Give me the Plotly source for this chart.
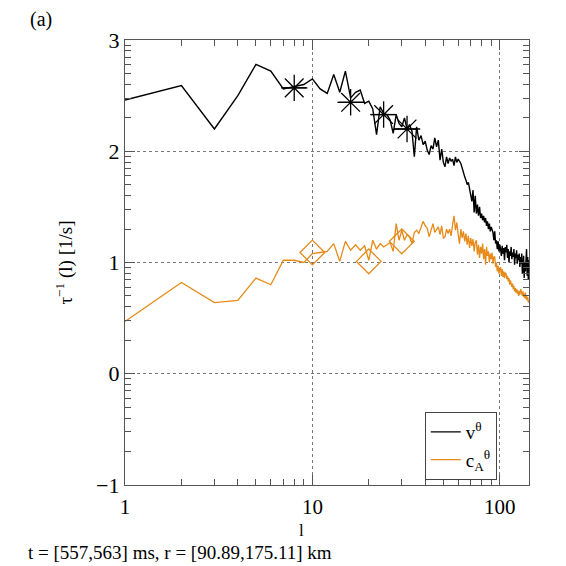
import plotly.graph_objects as go

# scale index l (1..143)
l_vals = list(range(1, 144))

v_theta = [
    2.46, 2.59, 2.20, 2.50, 2.78, 2.72, 2.56, 2.58, 2.60, 2.65,
    2.56, 2.52, 2.69, 2.53, 2.72, 2.48, 2.53, 2.55, 2.43, 2.45,
    2.38, 2.15, 2.40, 2.34, 2.33, 2.28, 2.16, 2.33, 2.25, 2.22,
    2.30, 2.20, 2.24, 2.18, 1.95, 2.22, 2.10, 2.14, 2.06, 2.09,
    2.01, 1.97, 2.05, 2.02, 2.12, 2.04, 2.10, 1.92, 2.02, 1.90,
    1.86, 1.95, 1.89, 1.94, 1.91, 1.93, 1.87, 1.95, 1.90, 1.93,
    1.91, 1.89, 1.85, 1.80, 1.77, 1.74, 1.70, 1.72, 1.65, 1.62,
    1.55, 1.65, 1.45, 1.60, 1.44, 1.52, 1.42, 1.50, 1.40, 1.44,
    1.38, 1.42, 1.36, 1.40, 1.33, 1.37, 1.30, 1.35, 1.28, 1.32,
    1.29, 1.27, 1.20, 1.28, 1.17, 1.20, 1.12, 1.19, 1.10, 1.16,
    1.12, 1.06, 1.15, 1.08, 1.13, 1.02, 1.14, 1.09, 1.16, 1.04,
    1.12, 1.00, 1.10, 1.06, 1.14, 1.03, 1.09, 1.05, 1.12, 0.98,
    1.08, 1.04, 1.11, 0.99, 1.07, 1.02, 1.08, 0.96, 1.05, 0.99,
    1.08, 0.90, 0.94, 1.06, 0.86, 1.00, 0.92, 1.10, 1.12, 0.88,
    1.05, 0.85, 1.02,
]

cA_theta = [
    0.47, 0.82, 0.64, 0.66, 0.86, 0.80, 1.02, 1.02, 1.00, 1.08,
    1.09, 1.10, 1.17, 1.01, 1.19, 1.11, 1.16, 1.11, 1.15, 1.02,
    1.20, 1.12, 1.17, 1.14, 1.16, 1.18, 1.10, 1.35, 1.20, 1.29,
    1.20, 1.25, 1.23, 1.17, 1.27, 1.29, 1.26, 1.32, 1.37, 1.33,
    1.31, 1.23, 1.30, 1.35, 1.27, 1.29, 1.32, 1.25, 1.33, 1.22,
    1.23, 1.30, 1.26, 1.30, 1.24, 1.34, 1.42, 1.29, 1.36, 1.25,
    1.17, 1.30, 1.22, 1.28, 1.19, 1.26, 1.16, 1.24, 1.13, 1.22,
    1.15, 1.21, 1.10, 1.18, 1.20, 1.07, 1.16, 1.04, 1.14, 1.08,
    1.17, 1.03, 1.12, 0.98, 1.14, 1.06, 1.10, 1.00, 1.08, 1.03,
    1.09, 0.99, 1.05, 1.05, 0.96, 1.00, 0.92, 0.97, 0.90, 0.93,
    0.96, 0.88, 0.94, 0.87, 0.92, 0.86, 0.91, 0.90, 0.85, 0.88,
    0.83, 0.86, 0.80, 0.84, 0.82, 0.78, 0.81, 0.76, 0.79, 0.74,
    0.77, 0.73, 0.76, 0.72, 0.75, 0.70, 0.74, 0.71, 0.76, 0.75,
    0.72, 0.70, 0.74, 0.69, 0.72, 0.68, 0.73, 0.67, 0.70, 0.66,
    0.69, 0.64, 0.66,
]

# binned markers
star_l = [8, 16, 24, 32]
star_v = [2.57, 2.44, 2.33, 2.20]
star_err_minus = [1.0, 2.2, 3.6, 4.6]
star_err_plus = [1.3, 3.0, 3.8, 4.6]

diam_l = [10, 20, 30]
diam_v = [1.09, 1.01, 1.19]

x_ticks = [1, 10, 100]
x_tick_text = ["1", "10", "100"]
x_minor = [2, 3, 4, 5, 6, 7, 8, 9, 20, 30, 40, 50, 60, 70, 80, 90]
y_ticks = [-1, 0, 1, 2, 3]
y_tick_text = ["\u22121", "0", "1", "2", "3"]
y_minor = [-0.69897, -0.52288, -0.39794, -0.30103, -0.22185, -0.15490, -0.09691, -0.04576,
           0.30103, 0.47712, 0.60206, 0.69897, 0.77815, 0.84510, 0.90309, 0.95424,
           1.30103, 1.47712, 1.60206, 1.69897, 1.77815, 1.84510, 1.90309, 1.95424,
           2.30103, 2.47712, 2.60206, 2.69897, 2.77815, 2.84510, 2.90309, 2.95424]

BLACK = "#000000"
ORANGE = "#E68A1A"
AXC = "#555555"
FONT = "Liberation Serif, Times New Roman, DejaVu Serif, serif"

XR = [0, 2.156]
YR = [-1, 3]

fig = go.Figure()
fig.add_trace(go.Scatter(x=l_vals, y=v_theta, mode="lines", name="v<sup>\u03b8</sup>",
                         line=dict(color=BLACK, width=1.4)))
fig.add_trace(go.Scatter(x=l_vals, y=cA_theta, mode="lines", name="c<sub>A</sub><sup>\u03b8</sup>",
                         line=dict(color=ORANGE, width=1.3)))
fig.add_trace(go.Scatter(x=star_l, y=star_v, mode="markers", showlegend=False,
                         marker=dict(symbol="asterisk-open", size=22, color=BLACK,
                                     line=dict(color=BLACK, width=1.3)),
                         error_x=dict(type="data", symmetric=False, array=star_err_plus,
                                      arrayminus=star_err_minus, color=BLACK, thickness=1.3, width=0)))
fig.add_trace(go.Scatter(x=diam_l, y=diam_v, mode="markers", showlegend=False,
                         marker=dict(symbol="diamond-open", size=19, color=ORANGE,
                                     line=dict(color=ORANGE, width=1.3))))
# empty trace on the overlay axes so the minor-tick axes are drawn
fig.add_trace(go.Scatter(x=[None], y=[None], xaxis="x2", yaxis="y2", mode="lines",
                         showlegend=False, hoverinfo="skip"))

fig.update_layout(
    width=558, height=558,
    margin=dict(l=117, r=37, t=32, b=81),
    paper_bgcolor="white", plot_bgcolor="white",
    font=dict(family=FONT, color="black", size=20),
    showlegend=True,
    legend=dict(x=0.742, y=0.164, xanchor="left", yanchor="top",
                bgcolor="white", bordercolor="#444", borderwidth=1,
                font=dict(family=FONT, size=19), tracegroupgap=0, itemwidth=30),
    xaxis=dict(type="log", range=XR, tickmode="array", tickvals=x_ticks,
               ticktext=x_tick_text, ticks="inside", ticklen=10, tickwidth=1,
               tickcolor=AXC, showline=True, linecolor=AXC, linewidth=1.2,
               mirror="allticks", showgrid=True, gridcolor="#777", griddash="dot", gridwidth=1,
               zeroline=False, tickfont=dict(size=21), ticklabelstandoff=3),
    yaxis=dict(range=YR, tickmode="array", tickvals=y_ticks, ticktext=y_tick_text,
               ticks="inside", ticklen=10, tickwidth=1, tickcolor=AXC,
               showline=True, linecolor=AXC, linewidth=1.2, mirror="allticks",
               showgrid=True, gridcolor="#777", griddash="dot", gridwidth=1,
               zeroline=False, tickfont=dict(size=22),
               title=dict(text="\u03c4<sup>\u22121</sup> (l) [1/s]", font=dict(size=19), standoff=18)),
    xaxis2=dict(type="log", range=XR, overlaying="x", side="bottom", anchor="y",
                tickmode="array", tickvals=x_minor, showticklabels=False,
                ticks="inside", ticklen=6, tickwidth=1, tickcolor=AXC,
                mirror="allticks", showline=False, showgrid=False, zeroline=False),
    yaxis2=dict(range=YR, overlaying="y", side="left", anchor="x",
                tickmode="array", tickvals=y_minor, showticklabels=False,
                ticks="inside", ticklen=6, tickwidth=1, tickcolor=AXC,
                mirror="allticks", showline=False, showgrid=False, zeroline=False),
    annotations=[
        dict(text="(a)", xref="paper", yref="paper",
             x=(41 - 125) / 404.0, y=(485 - 19) / 445.0,
             xanchor="center", yanchor="middle", showarrow=False,
             font=dict(family=FONT, size=20)),
        dict(text="l", xref="paper", yref="paper",
             x=(301 - 125) / 404.0, y=(485 - 530) / 445.0,
             xanchor="center", yanchor="middle", showarrow=False,
             font=dict(family=FONT, size=17)),
        dict(text="t = [557,563] ms, r = [90.89,175.11] km", xref="paper", yref="paper",
             x=(26 - 125) / 404.0, y=(485 - 552) / 445.0,
             xanchor="left", yanchor="middle", showarrow=False,
             font=dict(family=FONT, size=19)),
    ],
)

fig.write_html("out.html")
